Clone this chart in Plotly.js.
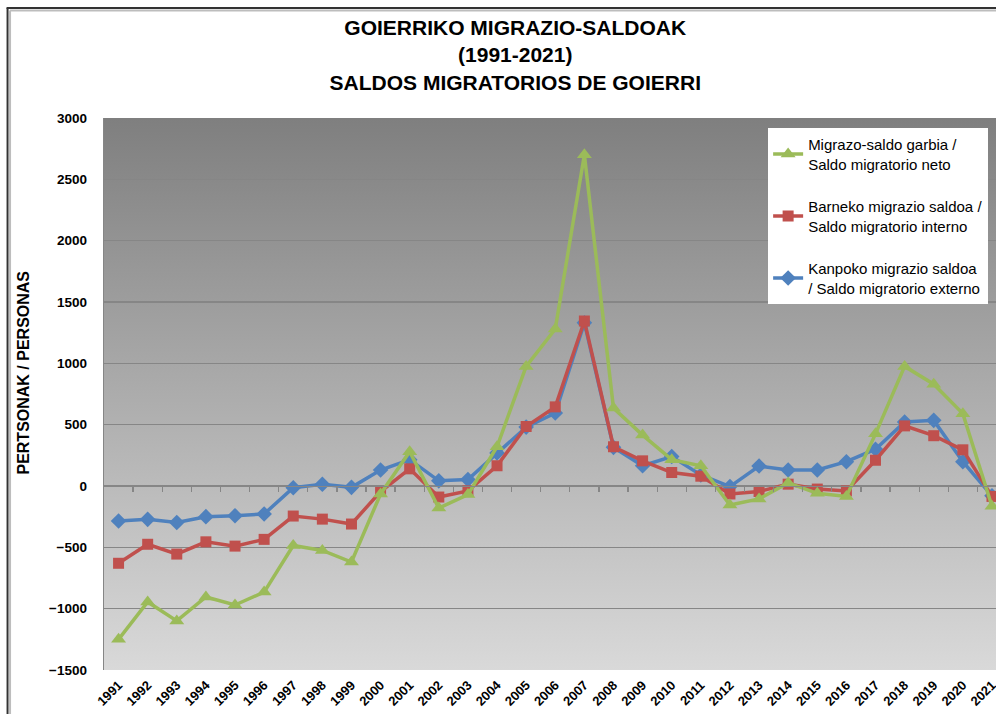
<!DOCTYPE html>
<html>
<head>
<meta charset="utf-8">
<script src="https://cdn.plot.ly/plotly-3.0.1.min.js"></script>
<style>
html,body{margin:0;padding:0;background:#fff;overflow:hidden;}
#chart{width:996px;height:714px;}
</style>
</head>
<body>
<div id="chart"></div>
<script>
// ---- data ----
const years = [1991,1992,1993,1994,1995,1996,1997,1998,1999,2000,2001,2002,2003,2004,2005,2006,2007,2008,2009,2010,2011,2012,2013,2014,2015,2016,2017,2018,2019,2020,2021];
const yearLabels = years.map(String);
const netBalance = [-1250,-945,-1100,-905,-970,-865,-485,-525,-620,-65,280,-180,-70,320,975,1280,2700,635,415,215,165,-155,-105,25,-60,-85,425,975,830,590,-165];
const internalBalance = [-630,-475,-555,-455,-490,-435,-245,-270,-310,-45,140,-90,-40,165,485,645,1345,320,205,110,80,-65,-45,15,-25,-40,210,490,410,295,-85];
const externalBalance = [-285,-272,-298,-250,-242,-228,-14,14,-11,130,215,42,52,270,480,595,1330,315,165,240,90,-5,163,130,130,198,300,522,535,198,-80];
const seriesNames = [
  "Migrazo-saldo garbia /<br>Saldo migratorio neto",
  "Barneko migrazio saldoa /<br>Saldo migratorio interno",
  "Kanpoko migrazio saldoa<br>/ Saldo migratorio externo"
];
const yTicks = [-1500,-1000,-500,0,500,1000,1500,2000,2500,3000];

// ---- geometry helpers (plot area in px) ----
const W = 996, H = 714, L = 103.5, T = 118, B = 670;
const PW = W - L, PH = B - T;
const catW = 29.13;
const px2x = p => (p - L) / PW;
const px2y = p => (B - p) / PH;

const FONT = "Liberation Sans, Arial, sans-serif";
const GRID = "#868686";

const grad = '<svg xmlns="http://www.w3.org/2000/svg" width="10" height="100" preserveAspectRatio="none">' +
  '<defs><linearGradient id="g" x1="0" y1="0" x2="0" y2="1">' +
  '<stop offset="0" stop-color="#7f7f7f"/><stop offset="1" stop-color="#d9d9d9"/></linearGradient></defs>' +
  '<rect width="10" height="100" fill="url(#g)"/></svg>';
const gradURI = 'data:image/svg+xml;charset=utf-8,' + encodeURIComponent(grad);

const traces = [
  {x: years, y: externalBalance, name: seriesNames[2], legendgroup: "ext", legendrank: 3, mode: "lines+markers",
   line: {color: "#4F81BD", width: 3.5}, marker: {symbol: "diamond", size: 12, color: "#4F81BD"}},
  {x: years, y: internalBalance, name: seriesNames[1], legendgroup: "int", legendrank: 2, mode: "lines+markers",
   line: {color: "#C0504D", width: 3.5}, marker: {symbol: "square", size: 11, color: "#C0504D"}},
  {x: years, y: netBalance, name: seriesNames[0], legendgroup: "net", legendrank: 1, mode: "lines+markers",
   line: {color: "#9BBB59", width: 3.5}, marker: {symbol: "triangle-up", size: 13, color: "#9BBB59"}},
  {x: years, y: netBalance, xaxis: "x2", mode: "none", showlegend: false, hoverinfo: "skip"}
];

const x0 = 1990.5, x1 = x0 + PW / catW;

const layout = {
  width: W, height: H,
  margin: {l: L, r: 0, t: T, b: H - B, pad: 0},
  paper_bgcolor: "rgba(0,0,0,0)",
  plot_bgcolor: "rgba(0,0,0,0)",
  showlegend: true,
  font: {family: FONT, color: "#000"},
  title: {
    text: "GOIERRIKO MIGRAZIO-SALDOAK<br>(1991-2021)<br>SALDOS MIGRATORIOS DE GOIERRI",
    font: {family: FONT, size: 21, weight: "bold", color: "#000"},
    x: px2x(515), xref: "paper", xanchor: "center",
    y: 1 - 35 / H, yref: "container", yanchor: "top"
  },
  xaxis: {
    range: [x0, x1], tickmode: "array", tickvals: years, ticktext: yearLabels,
    tickangle: -45, tickfont: {family: FONT, size: 13, weight: "bold", color: "#000"},
    showgrid: false, zeroline: false, showline: false, ticks: "", automargin: false,
    ticklabelstandoff: 4, ticklabeloverflow: "allow", fixedrange: true
  },
  xaxis2: {
    overlaying: "x", matches: "x", anchor: "free", position: 1500 / 4500,
    showline: true, linecolor: GRID, linewidth: 1.3,
    tickmode: "array", tickvals: years.slice(0, -1).map(v => v + 0.5),
    ticks: "outside", ticklen: 5, tickcolor: GRID, tickwidth: 1.3,
    showticklabels: false, showgrid: false, zeroline: false
  },
  yaxis: {
    range: [-1500, 3000], tickmode: "array", tickvals: yTicks,
    tickfont: {family: FONT, size: 13.5, weight: "bold", color: "#000"},
    showgrid: true, gridcolor: GRID, gridwidth: 1.3, zeroline: false,
    showline: true, linecolor: GRID, linewidth: 1.3, ticks: "",
    ticklabelstandoff: 13, automargin: false, fixedrange: true
  },
  legend: {
    x: px2x(768), y: px2y(128), xanchor: "left", yanchor: "top",
    bgcolor: "#ffffff", borderwidth: 0,
    font: {family: FONT, size: 15, color: "#000"},
    traceorder: "grouped", tracegroupgap: 20,
    itemwidth: 30
  },
  annotations: [{
    text: "PERTSONAK / PERSONAS", textangle: -90,
    xref: "paper", yref: "paper", x: px2x(22), y: px2y(373),
    xanchor: "center", yanchor: "middle", showarrow: false,
    font: {family: FONT, size: 16, weight: "bold", color: "#000"}
  }],
  images: [{
    source: gradURI, xref: "paper", yref: "paper", x: 0, y: 1,
    sizex: 1, sizey: 1, xanchor: "left", yanchor: "top",
    sizing: "stretch", layer: "below"
  }],
  shapes: [
    {type: "line", xref: "paper", yref: "paper", x0: px2x(7), x1: px2x(7), y0: px2y(8), y1: px2y(720), line: {color: "#333333", width: 2}},
    {type: "line", xref: "paper", yref: "paper", x0: px2x(6), x1: px2x(1000), y0: px2y(8), y1: px2y(8), line: {color: "#333333", width: 2}},
    {type: "line", xref: "paper", yref: "paper", x0: px2x(9.5), x1: px2x(9.5), y0: px2y(10.5), y1: px2y(720), line: {color: "#bdbdbd", width: 2}},
    {type: "line", xref: "paper", yref: "paper", x0: px2x(9.5), x1: px2x(1000), y0: px2y(10.5), y1: px2y(10.5), line: {color: "#bdbdbd", width: 2}}
  ]
};

Plotly.newPlot("chart", traces, layout, {displayModeBar: false, staticPlot: true});
</script>
</body>
</html>
